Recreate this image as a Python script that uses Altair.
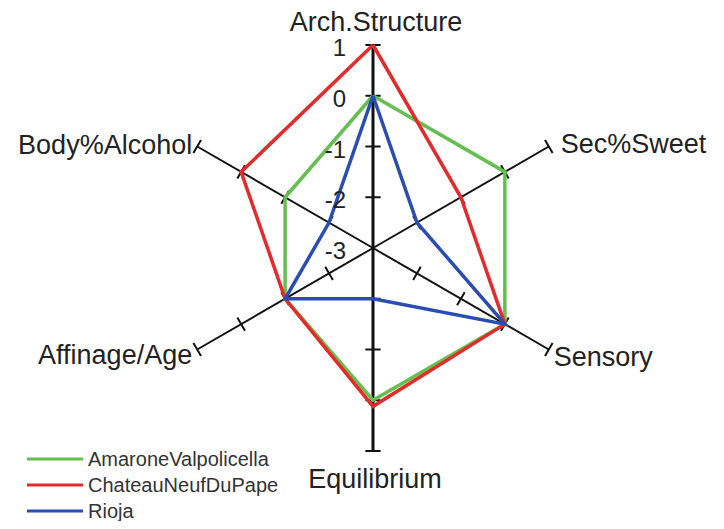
import math
import altair as alt
import pandas as pd

# ---------------- data ----------------
axes = ["Arch.Structure", "Sec%Sweet", "Sensory", "Equilibrium", "Affinage/Age", "Body%Alcohol"]
series = ["AmaroneValpolicella", "ChateauNeufDuPape", "Rioja"]
amarone = [0, 0, 0, 0, -1, -1]
chateau = [1, -1, 0, 0.12, -1, 0]
rioja = [0, -2, 0, -2, -1, -2]
tick_values = [1, 0, -1, -2, -3]
colors = ["#63bf4e", "#e42a2a", "#2a4db3"]

# ---------------- layout ----------------
vmin, vmax = -3, 1
W, H = 708, 513
cx, cy = 365, 240
R = 203.0
u = R / (vmax - vmin)          # pixels per value unit
FONT = "Liberation Sans"

xdom = [-cx / u, (W - cx) / u]
ydom = [-(H - cy) / u, cy / u]
xs = alt.Scale(domain=xdom, nice=False, zero=False)
ys = alt.Scale(domain=ydom, nice=False, zero=False)


def ang(i):
    return math.radians(90 - 60 * i)


def pos(i, v):
    r = v - vmin
    return r * math.cos(ang(i)), r * math.sin(ang(i))


# axis lines
rows = []
for i, a in enumerate(axes):
    x, y = pos(i, vmax)
    rows.append(dict(x=0.0, y=0.0, x2=x, y2=y, w=3.0 if i in (0, 3) else 2.0))
axis_df = pd.DataFrame(rows)

# ticks at each unit on each axis
h = 0.15
rows = []
for i, a in enumerate(axes):
    t = ang(i)
    px, py = -math.sin(t), math.cos(t)
    for v in range(vmin + 1, vmax + 1):
        x, y = pos(i, v)
        rows.append(dict(x=x - h * px, y=y - h * py, x2=x + h * px, y2=y + h * py))
tick_df = pd.DataFrame(rows)

# tick labels along the top axis
tl_df = pd.DataFrame([dict(x=pos(0, v)[0], y=pos(0, v)[1], t=str(v)) for v in tick_values])

# polygons
def poly(vals):
    rows = []
    for k in range(len(axes) + 1):
        i = k % len(axes)
        x, y = pos(i, vals[i])
        rows.append(dict(x=x, y=y, o=k))
    return pd.DataFrame(rows)

X = alt.X("x:Q", scale=xs, axis=None)
Y = alt.Y("y:Q", scale=ys, axis=None)

layers = []
layers.append(alt.Chart(axis_df).mark_rule(color="#111111").encode(
    x=X, y=Y, x2="x2:Q", y2="y2:Q", strokeWidth=alt.StrokeWidth("w:Q", scale=None)))
layers.append(alt.Chart(tick_df).mark_rule(color="#111111", strokeWidth=2).encode(
    x=X, y=Y, x2="x2:Q", y2="y2:Q"))

for vals, col in zip([amarone, chateau, rioja], colors):
    layers.append(alt.Chart(poly(vals)).mark_line(color=col, strokeWidth=3.5, strokeJoin="miter").encode(
        x=X, y=Y, order="o:Q"))

layers.append(alt.Chart(tl_df).mark_text(font=FONT, fontSize=24, align="right", baseline="middle",
                                         dx=-27, dy=4, color="#222222").encode(x=X, y=Y, text="t:N"))

# axis labels
label_style = {
    "Arch.Structure": dict(align="center", dx=3, dy=-14),
    "Sec%Sweet": dict(align="left", dx=12, dy=6),
    "Sensory": dict(align="left", dx=5, dy=16),
    "Equilibrium": dict(align="center", dx=2, dy=37),
    "Affinage/Age": dict(align="right", dx=-5, dy=14),
    "Body%Alcohol": dict(align="right", dx=-5, dy=7),
}
for i, a in enumerate(axes):
    x, y = pos(i, vmax)
    d = pd.DataFrame([dict(x=x, y=y, t=a)])
    st = label_style[a]
    layers.append(alt.Chart(d).mark_text(font=FONT, fontSize=27, baseline="alphabetic",
                                         color="#222222", **st).encode(x=X, y=Y, text="t:N"))

# legend
lx0, lx1, ltx = (19 - cx) / u, (75 - cx) / u, (80 - cx) / u
rows = []
for k, s in enumerate(series):
    yy = (cy - (451 + 26 * k)) / u
    rows.append(dict(x=lx0, x2=lx1, y=yy, tx=ltx, t=s, c=colors[k]))
leg_df = pd.DataFrame(rows)
layers.append(alt.Chart(leg_df).mark_rule(strokeWidth=3).encode(
    x=X, x2="x2:Q", y=Y, color=alt.Color("c:N", scale=None)))
layers.append(alt.Chart(leg_df).mark_text(font=FONT, fontSize=20, align="left", baseline="middle",
                                          dy=1, color="#333333").encode(
    x=alt.X("tx:Q", scale=xs, axis=None), y=Y, text="t:N"))

chart = alt.layer(*layers).properties(
    width=W, height=H, autosize=alt.AutoSizeParams(type="none"), padding=0
).configure_view(stroke=None)

chart.save("out.html", embed_options={"renderer": "svg", "actions": False})
